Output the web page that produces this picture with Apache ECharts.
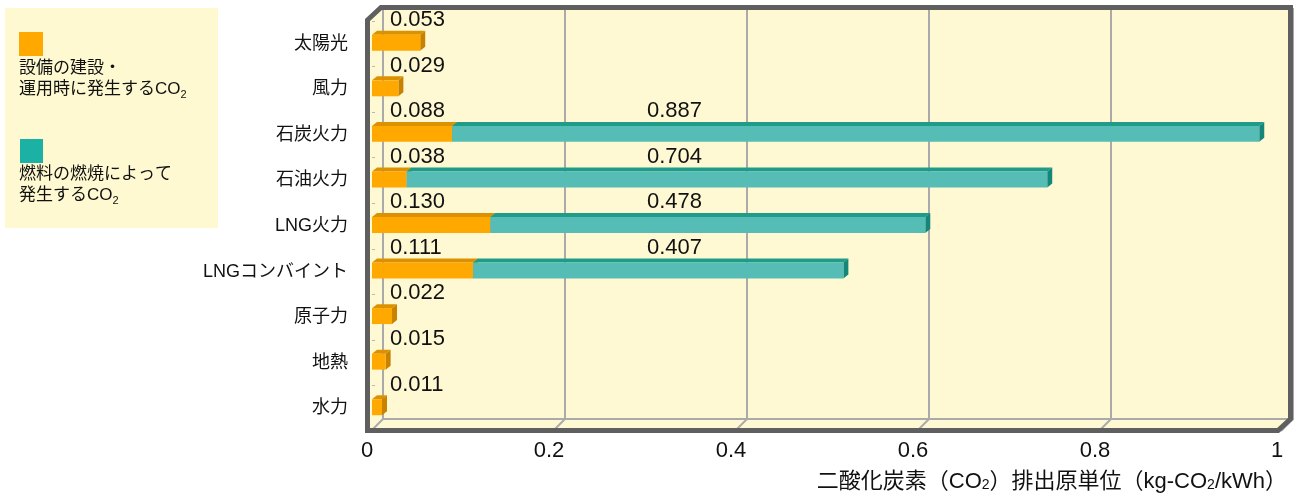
<!DOCTYPE html>
<html>
<head>
<meta charset="utf-8">
<script src="https://cdn.jsdelivr.net/npm/echarts@6/dist/echarts.min.js"></script>
<style>
html, body { margin: 0; padding: 0; background: #fff; }
#chart { width: 1300px; height: 496px; }
</style>
</head>
<body>
<div id="chart"></div>
<script>
// 電源別のCO2排出原単位（kg-CO2/kWh）
const categories = ['太陽光', '風力', '石炭火力', '石油火力', 'LNG火力', 'LNGコンバイント', '原子力', '地熱', '水力']
const facilityCO2 = [0.053, 0.029, 0.088, 0.038, 0.130, 0.111, 0.022, 0.015, 0.011] // 設備の建設・運用時
const fuelCO2 = [null, null, 0.887, 0.704, 0.478, 0.407, null, null, null]          // 燃料の燃焼
const xTicks = [0, 0.2, 0.4, 0.6, 0.8, 1]

const FONT = "'Liberation Sans','Noto Sans CJK JP',sans-serif"
const PLOT_BG = '#FFF9D3'
const FRAME = '#5F5F5F'
const GRID_LINE = '#AAAAAA'
const DX = 5, DY = 4   // 棒の奥行き
const ORANGE = { front: '#FFA800', top: '#DC9200', side: '#C78300' }
const TEAL = { front: '#55BDB5', top: '#1F9B8A', side: '#14867A' }

const chart = echarts.init(document.getElementById('chart'))

function box(x0, x1, yc, h, c) {
  const top = yc - h / 2, bot = yc + h / 2
  return [
    { type: 'polygon', shape: { points: [[x0, top], [x0 + DX, top - DY], [x1 + DX, top - DY], [x1, top]] }, style: { fill: c.top } },
    { type: 'polygon', shape: { points: [[x1, top], [x1 + DX, top - DY], [x1 + DX, bot - DY], [x1, bot]] }, style: { fill: c.side } },
    { type: 'rect', shape: { x: x0, y: top, width: x1 - x0, height: h }, style: { fill: c.front } }
  ]
}

function barRenderer(colors, labelDx) {
  return function (params, api) {
    const cat = api.value(2)
    const p0 = api.coord([api.value(0), cat])
    const p1 = api.coord([api.value(1), cat])
    const origin = api.coord([0, cat])
    const band = api.size([0, 1])[1]
    const yc = p0[1] - 1
    const children = box(p0[0], p1[0], yc, band * 0.35, colors)
    children.push({
      type: 'text',
      style: {
        x: origin[0] + labelDx, y: yc - band * 0.5,
        text: api.value(3).toFixed(3),
        fill: '#111', fontSize: 22, fontFamily: FONT,
        align: 'left', verticalAlign: 'middle'
      }
    })
    return { type: 'group', children }
  }
}

const facilityData = facilityCO2.map((v, i) => [0, v, i, v])
const fuelData = []
fuelCO2.forEach((v, i) => {
  if (v != null) fuelData.push([facilityCO2[i], facilityCO2[i] + v, i, v])
})

const sub = { fontSize: 11, fontFamily: FONT, fill: '#111', verticalAlign: 'bottom', padding: [5, 0, 0, 0] }
const legText = { fontSize: 17, fontFamily: FONT, fill: '#111', lineHeight: 21 }

const option = {
  animation: false,
  textStyle: { fontFamily: FONT },
  grid: [
    { left: 372, right: 18, top: 21, bottom: 65 },
    { left: 383, right: 7, top: 9, bottom: 77, show: true, borderColor: GRID_LINE, borderWidth: 2, backgroundColor: 'transparent' }
  ],
  xAxis: [
    {
      gridIndex: 0, type: 'value', min: 0, max: 1, interval: 0.2,
      axisLine: { show: false }, axisTick: { show: false }, splitLine: { show: false },
      axisLabel: { fontSize: 22, color: '#111', margin: 9, padding: [0, 10, 0, 0] },
      name: '{n|二酸化炭素（CO}{s|2}{n|）排出原単位（kg-CO}{s|2}{n|/kWh）}',
      nameLocation: 'end', nameGap: 5,
      nameTextStyle: {
        align: 'right', verticalAlign: 'top', padding: [40, 0, 0, 0],
        rich: {
          n: { fontSize: 22, color: '#111', fontFamily: FONT },
          s: { fontSize: 14, color: '#111', fontFamily: FONT, padding: [7, 0, 0, 0] }
        }
      }
    },
    {
      gridIndex: 1, type: 'value', min: 0, max: 1, interval: 0.2,
      axisLine: { show: false }, axisTick: { show: false }, axisLabel: { show: false },
      splitLine: { show: true, lineStyle: { color: GRID_LINE, width: 2 } }
    }
  ],
  yAxis: [
    {
      gridIndex: 0, type: 'category', data: categories, inverse: true,
      axisLine: { show: false },
      axisTick: { show: true, inside: true, length: 3, lineStyle: { color: '#B8B8B8' } },
      axisLabel: { fontSize: 18, color: '#111', margin: 24 }
    },
    {
      gridIndex: 1, type: 'value', min: 0, max: 1, show: false
    }
  ],
  graphic: [
    // 凡例
    { type: 'rect', z: 1, shape: { x: 5, y: 8, width: 213, height: 220 }, style: { fill: '#FEF9D1' } },
    { type: 'rect', z: 2, shape: { x: 19, y: 32, width: 24, height: 24 }, style: { fill: '#FFA800' } },
    { type: 'text', z: 2, x: 19, y: 58, style: { text: '{a|設備の建設・}\n{a|運用時に発生するCO}{s|2}', rich: { a: legText, s: sub } } },
    { type: 'rect', z: 2, shape: { x: 20, y: 139, width: 23, height: 24 }, style: { fill: '#1BB2A5' } },
    { type: 'text', z: 2, x: 19, y: 164, style: { text: '{a|燃料の燃焼によって}\n{a|発生するCO}{s|2}', rich: { a: legText, s: sub } } },
    // 枠
    {
      type: 'polygon', z: -10,
      shape: { points: [[367.5, 430.5], [367.5, 20], [381, 7.5], [1290.5, 7.5], [1290.5, 419], [1278, 430.5]] },
      style: { fill: PLOT_BG }
    },
    {
      type: 'polygon', z: 50,
      shape: { points: [[367.5, 430.5], [367.5, 20], [381, 7.5], [1290.5, 7.5], [1290.5, 419], [1278, 430.5]] },
      style: { fill: 'none', stroke: FRAME, lineWidth: 5, lineJoin: 'miter' }
    }
  ],
  series: [
    {
      type: 'custom', name: 'floor', xAxisIndex: 1, yAxisIndex: 1, silent: true, z: 1,
      data: xTicks.map(v => [v, 0]),
      renderItem: function (params, api) {
        const p = api.coord([api.value(0), 0])
        return { type: 'line', shape: { x1: p[0], y1: p[1], x2: p[0] - 12, y2: p[1] + 12 }, style: { stroke: GRID_LINE, lineWidth: 2 } }
      }
    },
    {
      type: 'custom', name: '設備の建設・運用時に発生するCO2', xAxisIndex: 0, yAxisIndex: 0, z: 3,
      data: facilityData, renderItem: barRenderer(ORANGE, 18)
    },
    {
      type: 'custom', name: '燃料の燃焼によって発生するCO2', xAxisIndex: 0, yAxisIndex: 0, z: 4,
      data: fuelData, renderItem: barRenderer(TEAL, 275)
    }
  ]
}

chart.setOption(option)
</script>
</body>
</html>
